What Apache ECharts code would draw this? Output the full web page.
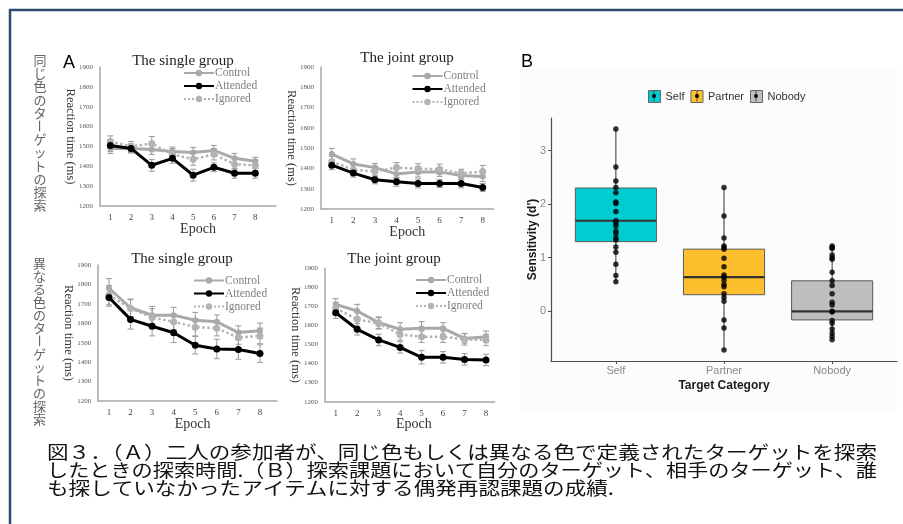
<!DOCTYPE html>
<html><head><meta charset="utf-8">
<script src="https://cdn.jsdelivr.net/npm/echarts@6/dist/echarts.min.js"></script>
<style>html,body{margin:0;padding:0;background:#fff;overflow:hidden}#c{width:903px;height:524px}</style>
</head><body><div id="c"></div>
<script>
// ---------- DATA ----------
const epochs = [1, 2, 3, 4, 5, 6, 7, 8];
const seriesNames = ['Control', 'Attended', 'Ignored'];
const panelTitles = ['The single group', 'The joint group', 'The single group', 'The joint group'];
const rowLabels = ['同じ色のターゲットの探索', '異なる色のターゲットの探索'];

// Same colour, single group
const sameSingleControl  = [1490, 1490, 1485, 1475, 1470, 1480, 1440, 1425];
const sameSingleControlErr  = [25, 22, 25, 22, 25, 25, 25, 20];
const sameSingleAttended = [1505, 1490, 1405, 1440, 1355, 1395, 1365, 1365];
const sameSingleAttendedErr = [30, 22, 30, 25, 30, 22, 25, 25];
const sameSingleIgnored  = [1525, 1500, 1515, 1460, 1435, 1460, 1410, 1405];
const sameSingleIgnoredErr  = [28, 25, 35, 30, 30, 28, 25, 25];
// Same colour, joint group
const sameJointControl  = [1471, 1422, 1404, 1373, 1383, 1383, 1365, 1360];
const sameJointControlErr  = [28, 25, 20, 22, 25, 22, 18, 25];
const sameJointAttended = [1416, 1377, 1344, 1334, 1326, 1326, 1326, 1306];
const sameJointAttendedErr = [22, 20, 20, 22, 22, 20, 22, 20];
const sameJointIgnored  = [1434, 1393, 1385, 1404, 1398, 1396, 1376, 1385];
const sameJointIgnoredErr  = [25, 22, 25, 25, 25, 25, 20, 30];
// Different colour, single group
const diffSingleControl  = [1780, 1680, 1642, 1642, 1616, 1608, 1552, 1561];
const diffSingleControlErr  = [50, 45, 45, 40, 40, 35, 35, 40];
const diffSingleAttended = [1733, 1620, 1585, 1551, 1487, 1468, 1465, 1444];
const diffSingleAttendedErr = [45, 50, 50, 50, 45, 50, 50, 45];
const diffSingleIgnored  = [1745, 1676, 1630, 1608, 1580, 1575, 1527, 1535];
const diffSingleIgnoredErr  = [50, 45, 45, 40, 45, 40, 35, 40];
// Different colour, joint group
const diffJointControl  = [1711, 1676, 1615, 1580, 1585, 1585, 1532, 1541];
const diffJointControlErr  = [30, 35, 30, 35, 35, 30, 25, 30];
const diffJointAttended = [1667, 1580, 1524, 1485, 1433, 1433, 1422, 1419];
const diffJointAttendedErr = [30, 30, 30, 30, 35, 30, 30, 30];
const diffJointIgnored  = [1690, 1632, 1611, 1553, 1541, 1541, 1527, 1524];
const diffJointIgnoredErr  = [30, 35, 30, 30, 30, 30, 30, 30];

const rtTicks = [1200, 1300, 1400, 1500, 1600, 1700, 1800, 1900];

// Panel B
const categories = ['Self', 'Partner', 'Nobody'];
const dTicks = [0, 1, 2, 3];
// [min, Q1, median, Q3, max]
const selfBox    = [0.55, 1.30, 1.69, 2.30, 3.40];
const partnerBox = [-0.72, 0.31, 0.64, 1.16, 2.31];
const nobodyBox  = [-0.53, -0.16, 0.00, 0.57, 1.22];
const selfPoints    = [3.40, 2.69, 2.43, 2.31, 2.21, 2.04, 2.01, 1.86, 1.69, 1.65, 1.59, 1.50, 1.45, 1.37, 1.33, 1.20, 1.10, 0.88, 0.67, 0.55];
const partnerPoints = [2.31, 1.78, 1.37, 1.22, 1.19, 1.16, 0.99, 0.83, 0.68, 0.64, 0.58, 0.50, 0.46, 0.33, 0.26, 0.19, -0.16, -0.31, -0.72];
const nobodyPoints  = [1.22, 1.19, 1.17, 1.05, 1.00, 0.97, 0.73, 0.57, 0.48, 0.33, 0.17, 0.12, 0.00, -0.01, -0.17, -0.22, -0.33, -0.41, -0.47, -0.53];

const captionLines = [
  '図３．（Ａ）二人の参加者が、同じ色もしくは異なる色で定義されたターゲットを探索',
  'したときの探索時間.（Ｂ）探索課題において自分のターゲット、相手のターゲット、誰',
  'も探していなかったアイテムに対する偶発再認課題の成績.'
];

// ---------- LAYOUT / STYLE ----------
const panels = [
  {data: [sameSingleControl, sameSingleAttended, sameSingleIgnored], err: [sameSingleControlErr, sameSingleAttendedErr, sameSingleIgnoredErr],
   grid: {left: 100, top: 67, width: 176, height: 139}, xmax: 9.0, title: [183, 61], legend: [183, 67], epochPad: 20},
  {data: [sameJointControl, sameJointAttended, sameJointIgnored], err: [sameJointControlErr, sameJointAttendedErr, sameJointIgnoredErr],
   grid: {left: 321, top: 67, width: 172.5, height: 142}, xmax: 8.5, title: [407, 58], legend: [411.5, 70], epochPad: 0},
  {data: [diffSingleControl, diffSingleAttended, diffSingleIgnored], err: [diffSingleControlErr, diffSingleAttendedErr, diffSingleIgnoredErr],
   grid: {left: 98.2, top: 265, width: 179, height: 136}, xmax: 8.8, title: [182, 259], legend: [193, 274.5], epochPad: 10},
  {data: [diffJointControl, diffJointAttended, diffJointIgnored], err: [diffJointControlErr, diffJointAttendedErr, diffJointIgnoredErr],
   grid: {left: 325, top: 268.3, width: 169.6, height: 133.4}, xmax: 8.4, title: [394, 259], legend: [415, 274], epochPad: 8}
];
const lineStyles = [
  {color: '#a9a9a9', width: 3, type: 'solid', size: 6},
  {color: '#000000', width: 3, type: 'solid', size: 7},
  {color: '#b3b3b3', width: 2.5, type: 'dotted', size: 7}
];
const serif = '"Liberation Serif", "DejaVu Serif", serif';
const sans = '"Liberation Sans", Arial, sans-serif';
const jp = '"Noto Sans CJK JP", sans-serif';

const grids = [], xAxes = [], yAxes = [], series = [], legends = [], graphics = [];

function errRender(color) {
  return function (params, api) {
    const x = api.value(0), y = api.value(1), e = api.value(2);
    const t = api.coord([x, y + e]), b = api.coord([x, y - e]);
    const hw = 3;
    const st = {stroke: color, lineWidth: 1};
    return {type: 'group', children: [
      {type: 'line', shape: {x1: t[0], y1: t[1], x2: b[0], y2: b[1]}, style: st},
      {type: 'line', shape: {x1: t[0] - hw, y1: t[1], x2: t[0] + hw, y2: t[1]}, style: st},
      {type: 'line', shape: {x1: b[0] - hw, y1: b[1], x2: b[0] + hw, y2: b[1]}, style: st}
    ]};
  };
}

panels.forEach((p, i) => {
  grids.push(Object.assign({containLabel: false}, p.grid));
  xAxes.push({
    gridIndex: i, type: 'value', min: 0.5, max: p.xmax,
    axisLine: {show: true, onZero: false, lineStyle: {color: '#a6a6a6', width: 1.5}},
    axisTick: {show: false}, splitLine: {show: false},
    axisLabel: {customValues: epochs, fontFamily: serif, fontSize: 9, color: '#444', margin: 7},
    name: 'Epoch', nameLocation: 'middle', nameGap: 16, nameMoveOverlap: false,
    nameTextStyle: {fontFamily: serif, fontSize: 14, color: '#333', padding: [0, 0, 0, p.epochPad]}
  });
  yAxes.push({
    gridIndex: i, type: 'value', min: 1200, max: 1900,
    axisLine: {show: true, onZero: false, lineStyle: {color: '#a6a6a6', width: 1.5}},
    axisTick: {show: false}, splitLine: {show: false},
    axisLabel: {customValues: rtTicks, formatter: v => String(v), fontFamily: serif, fontSize: 7, color: '#555', margin: 7},
    name: 'Reaction time (ms)', nameLocation: 'middle', nameRotate: -90, nameGap: 23, nameMoveOverlap: false,
    nameTextStyle: {fontFamily: serif, fontSize: 12.5, color: '#333'}
  });
  seriesNames.forEach((nm, k) => {
    series.push({
      type: 'custom', name: nm + ' SE', xAxisIndex: i, yAxisIndex: i, z: 2,
      renderItem: errRender('#9a9a9a'),
      data: epochs.map((e, j) => [e, p.data[k][j], p.err[k][j]]),
      encode: {x: 0, y: 1}, silent: true
    });
  });
  seriesNames.forEach((nm, k) => {
    const ls = lineStyles[k];
    series.push({
      type: 'line', name: nm, xAxisIndex: i, yAxisIndex: i, z: k === 1 ? 4 : 3,
      data: epochs.map((e, j) => [e, p.data[k][j]]),
      symbol: 'circle', symbolSize: ls.size, showSymbol: true,
      lineStyle: {color: ls.color, width: ls.width, type: ls.type},
      itemStyle: {color: ls.color}, animation: false
    });
  });
  legends.push({
    orient: 'vertical', left: p.legend[0], top: p.legend[1], padding: 0,
    itemWidth: 30, itemHeight: 8, itemGap: 1, data: seriesNames.slice(), selectedMode: false,
    textStyle: {fontFamily: serif, fontSize: 11.5, color: '#808080', lineHeight: 12, padding: [0, 0, 0, -4]}
  });
  graphics.push({type: 'text', x: p.title[0], y: p.title[1],
    style: {text: panelTitles[i], fontFamily: serif, fontSize: 15, fill: '#222', align: 'center', verticalAlign: 'middle'}});
});

// Panel B
const bIdx = 4;
grids.push({left: 551, top: 118, width: 346, height: 243});
xAxes.push({
  gridIndex: bIdx, type: 'value', min: 0.4, max: 3.6,
  axisLine: {show: true, onZero: false, lineStyle: {color: '#4d4d4d', width: 1.2}},
  axisTick: {show: true, customValues: [1, 2, 3], length: 3, lineStyle: {color: '#4d4d4d'}},
  splitLine: {show: false},
  axisLabel: {customValues: [1, 2, 3], formatter: v => categories[Math.round(v) - 1], fontFamily: sans, fontSize: 11, color: '#8a8a8a', margin: 4},
  name: 'Target Category', nameLocation: 'middle', nameGap: 19, nameMoveOverlap: false,
  nameTextStyle: {fontFamily: sans, fontSize: 12, fontWeight: 'bold', color: '#1a1a1a'}
});
yAxes.push({
  gridIndex: bIdx, type: 'value', min: -0.926, max: 3.606,
  axisLine: {show: true, onZero: false, lineStyle: {color: '#4d4d4d', width: 1.2}},
  axisTick: {show: true, customValues: dTicks, length: 3, lineStyle: {color: '#4d4d4d'}},
  splitLine: {show: false},
  axisLabel: {customValues: dTicks, fontFamily: sans, fontSize: 11, color: '#8a8a8a', margin: 5},
  name: "Sensitivity (d')", nameLocation: 'middle', nameRotate: 90, nameGap: 12, nameMoveOverlap: false,
  nameTextStyle: {fontFamily: sans, fontSize: 12, fontWeight: 'bold', color: '#1a1a1a'}
});
const boxes = [selfBox, partnerBox, nobodyBox];
const points = [selfPoints, partnerPoints, nobodyPoints];
const boxColors = ['#00CDD0', '#FDBF2D', '#BEBEBE'];
categories.forEach((c, k) => {
  series.push({
    type: 'custom', name: c, xAxisIndex: bIdx, yAxisIndex: bIdx, z: 2,
    itemStyle: {color: boxColors[k]},
    data: [[k + 1].concat(boxes[k])],
    encode: {x: 0, y: [1, 5]},
    renderItem: function (params, api) {
      const x = api.value(0);
      const v = [1, 2, 3, 4, 5].map(d => api.value(d));
      const w = api.size([0.75, 0])[0];
      const pMin = api.coord([x, v[0]]), pQ1 = api.coord([x, v[1]]), pMed = api.coord([x, v[2]]),
            pQ3 = api.coord([x, v[3]]), pMax = api.coord([x, v[4]]);
      return {type: 'group', children: [
        {type: 'line', shape: {x1: pMin[0], y1: pMin[1], x2: pMax[0], y2: pMax[1]}, style: {stroke: '#333', lineWidth: 1}},
        {type: 'rect', shape: {x: pQ3[0] - w / 2, y: pQ3[1], width: w, height: pQ1[1] - pQ3[1]},
         style: {fill: boxColors[k], stroke: '#5a5a5a', lineWidth: 1}},
        {type: 'line', shape: {x1: pMed[0] - w / 2, y1: pMed[1], x2: pMed[0] + w / 2, y2: pMed[1]}, style: {stroke: '#333', lineWidth: 2.2}}
      ]};
    }
  });
});
categories.forEach((c, k) => {
  series.push({
    type: 'scatter', name: c + ' points', xAxisIndex: bIdx, yAxisIndex: bIdx, z: 5,
    symbol: 'circle', symbolSize: 5.5, itemStyle: {color: '#000'},
    data: points[k].map(v => [k + 1, v])
  });
});
legends.push({
  orient: 'horizontal', left: 648, top: 90, padding: 0, itemWidth: 12, itemHeight: 12, itemGap: 6,
  icon: 'rect', data: categories.slice(), selectedMode: false,
  itemStyle: {borderColor: '#666', borderWidth: 1},
  textStyle: {fontFamily: sans, fontSize: 11, color: '#333'}
});

// ---------- decorations ----------
graphics.push({type: 'text', x: 521, y: 53, z: -3, style: {text: 'B', fontFamily: sans, fontSize: 18, fill: '#000'}});
graphics.push({type: 'rect', z: -2, shape: {x: 520, y: 67, width: 377, height: 344}, style: {fill: '#fcfcfc'}});
graphics.push({type: 'text', x: 63, y: 54, style: {text: 'A', fontFamily: sans, fontSize: 18, fill: '#000'}});
[654, 697, 756].forEach(cx => {
  graphics.push({type: 'line', z: 10, shape: {x1: cx, y1: 90.5, x2: cx, y2: 101.5}, style: {stroke: '#333', lineWidth: 0.8}});
  graphics.push({type: 'circle', z: 10, shape: {cx: cx, cy: 96, r: 2}, style: {fill: '#000'}});
});
graphics.push({type: 'line', shape: {x1: 9, y1: 10, x2: 903, y2: 10}, style: {stroke: '#2E4A6C', lineWidth: 2.5}});
graphics.push({type: 'line', shape: {x1: 10, y1: 9, x2: 10, y2: 524}, style: {stroke: '#2E4A6C', lineWidth: 2.5}});
const rowPos = [[40, 60, 13.2], [39.5, 262.7, 13.0]];
rowLabels.forEach((s, r) => {
  Array.from(s).forEach((ch, j) => {
    graphics.push({type: 'text', x: rowPos[r][0], y: rowPos[r][1] + j * rowPos[r][2],
      rotation: ch === 'ー' ? -Math.PI / 2 : 0,
      style: {text: ch, fontFamily: jp, fontSize: 13, fill: '#666', align: 'center', verticalAlign: 'middle'}});
  });
});
const cv = document.createElement('canvas').getContext('2d');
cv.font = '18px "Noto Sans CJK JP"';
const w1 = cv.measureText(captionLines[0]).width;
const capY = [452.5, 470.5, 488];
captionLines.forEach((s, i) => {
  const w = cv.measureText(s).width;
  const sx = i < 2 ? 830 / w : 830 / w1;
  graphics.push({type: 'text', x: 47, y: capY[i], scaleX: sx, scaleY: 1,
    style: {text: s, fontFamily: jp, fontSize: 18, fill: '#111', verticalAlign: 'middle'}});
});

const chart = echarts.init(document.getElementById('c'), null, {renderer: 'canvas'});
chart.setOption({
  animation: false, backgroundColor: '#fff',
  grid: grids, xAxis: xAxes, yAxis: yAxes, series: series, legend: legends,
  graphic: {elements: graphics}
});
</script></body></html>
